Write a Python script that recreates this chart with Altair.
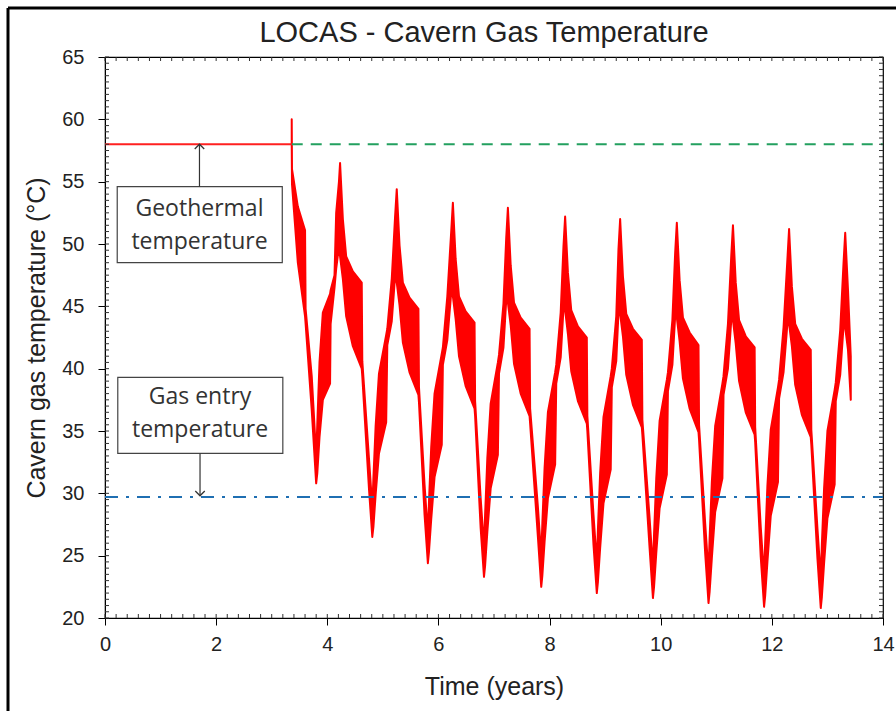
import altair as alt
import pandas as pd

# ---------------- data ----------------
time_years = [
    3.36, 3.365, 3.47, 3.60, 3.61, 3.72, 3.80,
    3.82, 3.86, 3.92, 4.05, 4.06, 4.13, 4.16, 4.21,
    4.23, 4.28, 4.34, 4.46, 4.62, 4.63, 4.75, 4.81,
    4.83, 4.87, 4.93, 5.06, 5.08, 5.16, 5.22,
    5.25, 5.30, 5.36, 5.48, 5.64, 5.65, 5.75, 5.81,
    5.83, 5.87, 5.93, 6.06, 6.08, 6.16, 6.23,
    6.26, 6.31, 6.37, 6.49, 6.65, 6.66, 6.76, 6.82,
    6.84, 6.88, 6.94, 7.07, 7.09, 7.17, 7.22,
    7.25, 7.30, 7.36, 7.48, 7.64, 7.65, 7.79, 7.85,
    7.87, 7.91, 7.97, 8.10, 8.12, 8.20, 8.25,
    8.28, 8.33, 8.39, 8.51, 8.67, 8.68, 8.79, 8.85,
    8.87, 8.91, 8.97, 9.10, 9.12, 9.20, 9.24,
    9.27, 9.32, 9.38, 9.50, 9.66, 9.67, 9.80, 9.86,
    9.88, 9.92, 9.98, 10.11, 10.13, 10.21, 10.26,
    10.29, 10.34, 10.40, 10.52, 10.68, 10.69, 10.80, 10.86,
    10.88, 10.92, 10.98, 11.11, 11.13, 11.21, 11.27,
    11.30, 11.35, 11.41, 11.53, 11.69, 11.70, 11.80, 11.86,
    11.88, 11.92, 11.98, 12.11, 12.13, 12.21, 12.28,
    12.31, 12.36, 12.42, 12.54, 12.70, 12.71, 12.82, 12.88,
    12.90, 12.94, 13.00, 13.13, 13.15, 13.23, 13.29,
    13.32, 13.37, 13.42,
]
temp_low = [
    58.0, 54.8, 48.5, 44.2, 43.6, 36.7, 30.8,
    31.6, 34.5, 37.5, 38.8, 43.6, 46.5, 48.0, 49.8,
    49.0, 47.2, 44.2, 41.8, 40.0, 39.4, 30.4, 26.5,
    27.3, 29.9, 33.2, 35.7, 41.9, 43.8, 47.4,
    46.9, 45.1, 42.1, 39.7, 37.9, 37.3, 28.3, 24.4,
    25.3, 27.9, 31.3, 33.9, 40.3, 42.3, 46.1,
    45.8, 44.0, 41.0, 38.6, 36.8, 36.2, 27.2, 23.3,
    24.2, 26.9, 30.4, 33.1, 39.6, 41.7, 45.5,
    45.3, 43.5, 40.4, 38.0, 36.2, 35.6, 26.5, 22.5,
    23.4, 26.1, 29.6, 32.3, 38.8, 40.9, 44.8,
    44.7, 42.8, 39.8, 37.4, 35.6, 35.0, 25.9, 22.0,
    22.9, 25.6, 29.2, 31.9, 38.5, 40.6, 44.5,
    44.4, 42.6, 39.5, 37.1, 35.3, 34.7, 25.6, 21.6,
    22.5, 25.2, 28.8, 31.5, 38.2, 40.3, 44.2,
    44.1, 42.2, 39.2, 36.8, 34.9, 34.3, 25.2, 21.2,
    22.1, 24.8, 28.5, 31.2, 37.9, 40.0, 43.9,
    43.9, 42.0, 39.0, 36.5, 34.7, 34.1, 24.9, 20.9,
    21.8, 24.5, 28.2, 30.9, 37.6, 39.7, 43.6,
    43.6, 41.8, 38.7, 36.3, 34.5, 33.9, 24.8, 20.8,
    21.7, 24.4, 28.0, 30.7, 37.4, 39.5, 43.4,
    43.3, 41.5, 37.5,
]
temp_high = [
    60.0, 56.0, 53.0, 51.1, 44.8, 39.4, 33.0,
    35.5, 40.5, 44.5, 46.0, 46.3, 47.5, 52.5, 55.0,
    56.5, 52.0, 49.0, 47.8, 46.9, 40.6, 32.8, 28.9,
    31.2, 35.4, 39.6, 42.7, 43.2, 47.2, 52.2,
    54.4, 49.9, 46.9, 45.7, 44.8, 38.5, 30.7, 26.8,
    29.3, 33.7, 38.0, 41.2, 41.7, 45.8, 51.0,
    53.3, 48.8, 45.8, 44.6, 43.7, 37.4, 29.6, 25.7,
    28.3, 32.8, 37.2, 40.5, 41.1, 45.2, 50.5,
    52.9, 48.3, 45.3, 44.1, 43.2, 36.8, 28.9, 24.9,
    27.6, 32.0, 36.5, 39.7, 40.3, 44.5, 49.8,
    52.2, 47.7, 44.7, 43.4, 42.5, 36.2, 28.3, 24.4,
    27.1, 31.6, 36.1, 39.4, 40.0, 44.2, 49.6,
    52.0, 47.4, 44.4, 43.2, 42.3, 35.9, 28.0, 24.0,
    26.7, 31.2, 35.8, 39.1, 39.7, 43.9, 49.3,
    51.7, 47.1, 44.1, 42.9, 41.9, 35.5, 27.6, 23.6,
    26.4, 30.9, 35.4, 38.8, 39.4, 43.6, 49.1,
    51.5, 46.9, 43.9, 42.6, 41.7, 35.3, 27.3, 23.3,
    26.1, 30.6, 35.1, 38.5, 39.1, 43.3, 48.8,
    51.2, 46.6, 43.6, 42.4, 41.5, 35.1, 27.2, 23.2,
    25.9, 30.4, 35.0, 38.3, 38.9, 43.1, 48.5,
    50.9, 46.3, 41.0,
]

geothermal_temp = 58.0
gas_entry_temp = 29.7
start_year = 3.36
x_ticks = [0, 2, 4, 6, 8, 10, 12, 14]
y_ticks = [20, 25, 30, 35, 40, 45, 50, 55, 60, 65]
x_minor = [round(i * 0.2, 1) for i in range(71)]
y_minor = [round(20 + i * 0.5, 1) for i in range(91)]

# annotation boxes (data coordinates)
box_x0 = [0.22, 0.23]
box_x1 = [3.19, 3.20]
box_y0 = [48.5, 33.2]
box_y1 = [54.6, 39.3]
label_x = [1.70, 1.70, 1.71, 1.71]
label_y = [52.8, 50.2, 37.7, 35.1]
label_text = ["Geothermal", "temperature", "Gas entry", "temperature"]
chart_title = "LOCAS - Cavern Gas Temperature"

W, H = 778, 561
FONT = "Liberation Sans"

xs = alt.Scale(domain=[0, 14], nice=False, zero=False)
ys = alt.Scale(domain=[20, 65], nice=False, zero=False)


def X(field, axis=None):
    return alt.X(field, type="quantitative", scale=xs, axis=axis)


def Y(field, axis=None):
    return alt.Y(field, type="quantitative", scale=ys, axis=axis)


band_df = pd.DataFrame({"t": time_years, "lo": temp_low, "hi": temp_high})

main_x_axis = alt.Axis(
    values=x_ticks, title="Time (years)", orient="bottom", grid=False,
    tickSize=7, tickColor="black", domainColor="black", labelFont=FONT,
    labelFontSize=20, labelColor="#222", labelPadding=9, labelFlush=False,
    labelOverlap=False, titleFont=FONT, titleFontSize=25,
    titleFontWeight="normal", titleColor="#222", titlePadding=20, format="d",
)
main_y_axis = alt.Axis(
    values=y_ticks, title="Cavern gas temperature (°C)", orient="left",
    grid=False, tickSize=7, tickColor="black", domainColor="black",
    labelFont=FONT, labelFontSize=20, labelColor="#222", labelPadding=14,
    labelFlush=False, labelOverlap=False, titleFont=FONT, titleFontSize=25,
    titleFontWeight="normal", titleColor="#222", titlePadding=12, format="d",
)

band = alt.Chart(band_df).mark_area(
    color="#ff0000", stroke="#ff0000", strokeWidth=2, strokeJoin="round",
    opacity=1, interpolate="linear",
).encode(
    x=X("t", main_x_axis),
    y=Y("lo", main_y_axis),
    y2="hi",
)

geo_red_df = pd.DataFrame({"x0": [0.0], "x1": [start_year], "y": [geothermal_temp]})
geo_red = alt.Chart(geo_red_df).mark_rule(color="#ff2020", strokeWidth=2).encode(
    x=X("x0"), x2="x1", y=Y("y")
)

geo_green_df = pd.DataFrame({"x0": [start_year], "x1": [14.0], "y": [geothermal_temp]})
geo_green = alt.Chart(geo_green_df).mark_rule(
    color="#23a05f", strokeWidth=2, strokeDash=[11, 8]
).encode(x=X("x0"), x2="x1", y=Y("y"))

gas_df = pd.DataFrame({"x0": [0.0], "x1": [14.0], "y": [gas_entry_temp]})
gas_line = alt.Chart(gas_df).mark_rule(
    color="#1f6fb2", strokeWidth=2, strokeDash=[13, 8, 3, 8]
).encode(x=X("x0"), x2="x1", y=Y("y"))

# minor ticks pointing inward on all four sides
xm_df = pd.DataFrame({"v": x_minor})
ym_df = pd.DataFrame({"v": y_minor})
tick_style = dict(color="#333", strokeWidth=1)
xm_bottom = alt.Chart(xm_df).mark_rule(**tick_style).encode(
    x=X("v"), y=alt.value(H), y2=alt.value(H - 4))
xm_top = alt.Chart(xm_df).mark_rule(**tick_style).encode(
    x=X("v"), y=alt.value(0), y2=alt.value(4))
ym_left = alt.Chart(ym_df).mark_rule(**tick_style).encode(
    y=Y("v"), x=alt.value(0), x2=alt.value(4))
ym_right = alt.Chart(ym_df).mark_rule(**tick_style).encode(
    y=Y("v"), x=alt.value(W), x2=alt.value(W - 4))

box_df = pd.DataFrame({"x0": box_x0, "x1": box_x1, "y0": box_y0, "y1": box_y1})
boxes = alt.Chart(box_df).mark_rect(
    fill="white", stroke="#444", strokeWidth=1.2
).encode(x=X("x0"), x2="x1", y=Y("y0"), y2="y1")

text_df = pd.DataFrame({"x": label_x, "y": label_y, "label": label_text})
texts = alt.Chart(text_df).mark_text(
    font="Open Sans", fontSize=23, color="#333", align="center", baseline="middle"
).encode(x=X("x"), y=Y("y"), text="label:N")

arrow_df = pd.DataFrame({"x": [1.70, 1.71], "y0": [54.6, 33.2], "y1": [58.0, 29.8]})
arrow_lines = alt.Chart(arrow_df).mark_rule(color="#333", strokeWidth=1.2).encode(
    x=X("x"), y=Y("y0"), y2="y1"
)
up_df = pd.DataFrame({"x": [1.70], "y": [58.0]})
arrow_up = alt.Chart(up_df).mark_point(
    shape="M-1,1L0,0L1,1", size=90, filled=False, stroke="#333", strokeWidth=1.3, opacity=1
).encode(x=X("x"), y=Y("y"))
down_df = pd.DataFrame({"x": [1.71], "y": [29.8]})
arrow_down = alt.Chart(down_df).mark_point(
    shape="M-1,-1L0,0L1,-1", size=90, filled=False, stroke="#333", strokeWidth=1.3, opacity=1
).encode(x=X("x"), y=Y("y"))

title_df = pd.DataFrame({"label": [chart_title]})
title_mark = alt.Chart(title_df).mark_text(
    font=FONT, fontSize=29, color="#222", align="center", baseline="middle"
).encode(x=alt.value(W / 2 - 10), y=alt.value(-24), text="label:N")

frame_df = pd.DataFrame({"a": [0]})
frame_left = alt.Chart(frame_df).mark_rule(color="black", strokeWidth=3).encode(
    x=alt.value(-97), y=alt.value(-49), y2=alt.value(H + 120)
)
frame_top = alt.Chart(frame_df).mark_rule(color="black", strokeWidth=3).encode(
    x=alt.value(-97), x2=alt.value(W + 40), y=alt.value(-49)
)

chart = alt.layer(
    band, geo_green, geo_red, gas_line, xm_bottom, xm_top, ym_left, ym_right,
    boxes, arrow_lines, arrow_up, arrow_down, texts, title_mark,
    frame_left, frame_top,
).resolve_axis(x="independent", y="independent").properties(
    width=W, height=H,
    padding={"left": 105, "top": 57, "right": 13, "bottom": 93},
    autosize=alt.AutoSizeParams(type="none"),
    background="white",
).configure_view(stroke="black", strokeWidth=1.2)

chart.save("out.html", embed_options={"renderer": "svg", "actions": False})
